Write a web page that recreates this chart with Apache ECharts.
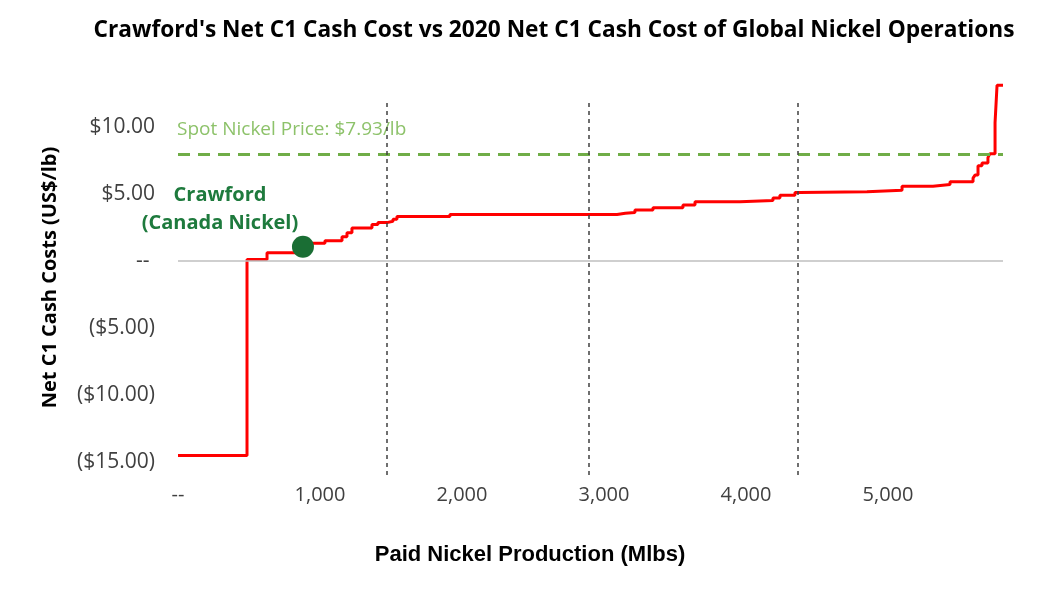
<!DOCTYPE html>
<html>
<head>
<meta charset="utf-8">
<script src="https://cdn.jsdelivr.net/npm/echarts@6/dist/echarts.min.js"></script>
<style>
  html, body { margin: 0; padding: 0; background: #fff; }
  #chart { width: 1041px; height: 605px; }
</style>
</head>
<body>
<div id="chart"></div>
<script>
// 累计产量 (Mlbs) 与 C1 成本 (US$/lb)，阶梯曲线
var prodX = [0, 486, 627, 870, 1035, 1155, 1190, 1225, 1366, 1408, 1472, 1514, 1542, 1915,
  3092, 3150, 3218, 3345, 3556, 3641, 3958, 4190, 4239, 4345, 4380, 4852, 5099, 5317,
  5437, 5599, 5613, 5634, 5662, 5704, 5718, 5754, 5768, 5810];
var costY = [-14.55, 0.1, 0.6, 1.3, 1.5, 1.8, 2.1, 2.45, 2.7, 2.85, 2.95, 3.1, 3.3, 3.45,
  3.55, 3.6, 3.8, 3.96, 4.16, 4.4, 4.5, 4.68, 4.9, 5.1, 5.15, 5.27, 5.57, 5.7,
  5.9, 6.17, 6.4, 7.1, 7.3, 7.7, 8.0, 10.3, 13.1, 13.1];

var xTicks = [0, 1000, 2000, 3000, 4000, 5000];
var yTicks = [-15, -10, -5, 0, 5, 10];
var quartileX = [1472, 2894, 4366];
var spotPrice = 7.93;
var crawford = [880, 1.05];

var chart = echarts.init(document.getElementById('chart'));

var lineData = prodX.map(function (x, i) { return [x, costY[i]]; });

// 四分位竖虚线
var vLines = quartileX.map(function (x) {
  return [{ coord: [x, -16], lineStyle: { color: '#404040', width: 1.5, type: [4, 4] } }, { coord: [x, 11.87] }];
});

function fmtY(v) {
  if (v === 0) return '-- ';
  var s = '$' + Math.abs(v).toFixed(2);
  return v < 0 ? '(' + s + ')' : s;
}

var option = {
  animation: false,
  title: {
    text: "Crawford's Net C1 Cash Cost vs 2020 Net C1 Cash Cost of Global Nickel Operations",
    left: 549,
    textAlign: 'center',
    top: 14,
    textStyle: { fontFamily: 'Open Sans', fontWeight: 'bold', fontSize: 22.7, color: '#000' }
  },
  grid: { left: 178, right: 38, top: 80, bottom: 130 },
  xAxis: {
    type: 'value',
    min: 0,
    max: 5810,
    axisLine: { show: false },
    axisTick: { show: false },
    splitLine: { show: false },
    axisLabel: {
      customValues: xTicks,
      margin: 10,
      fontFamily: 'Open Sans',
      fontSize: 20,
      color: '#404040',
      formatter: function (v) { return v === 0 ? '--' : v.toLocaleString('en-US'); }
    }
  },
  yAxis: {
    type: 'value',
    min: -16,
    max: 13.5,
    name: 'Net C1 Cash Costs (US$/lb)',
    nameLocation: 'middle',
    nameGap: 118,
    nameTextStyle: { fontFamily: 'Open Sans', fontWeight: 'bold', fontSize: 20, color: '#000' },
    axisLine: { show: false },
    axisTick: { show: false },
    splitLine: { show: false },
    axisLabel: {
      customValues: yTicks,
      margin: 23,
      fontFamily: 'Open Sans',
      fontSize: 21,
      color: '#404040',
      formatter: fmtY
    }
  },
  graphic: [
    {
      type: 'text', left: 177, top: 120,
      style: { text: 'Spot Nickel Price: $7.93/lb', fill: '#8dc26a', font: '19px "Open Sans"' }
    },
    {
      type: 'text', x: 220, y: 181,
      style: {
        text: 'Crawford\n(Canada Nickel)', fill: '#1e7a3d', align: 'center',
        font: 'bold 20px "Open Sans"', lineHeight: 28
      }
    },
    {
      type: 'text', x: 530, y: 555,
      style: {
        text: 'Paid Nickel Production (Mlbs)', fill: '#000', align: 'center', verticalAlign: 'middle',
        font: 'bold 22px "Liberation Sans"'
      }
    }
  ],
  series: [
    {
      type: 'line',
      step: 'end',
      data: lineData,
      showSymbol: false,
      lineStyle: { color: '#ff0000', width: 3 },
      z: 3,
      markLine: {
        silent: true,
        symbol: 'none',
        label: { show: false },
        data: [
          { yAxis: 0, lineStyle: { color: '#bfbfbf', width: 1.5, type: 'solid' } },
          { yAxis: spotPrice, lineStyle: { color: '#70ad47', width: 3, type: [12, 8] } }
        ].concat(vLines)
      }
    },
    {
      type: 'scatter',
      data: [crawford],
      symbolSize: 22,
      itemStyle: { color: '#1a6e34', opacity: 1 },
      z: 5
    }
  ]
};

chart.setOption(option);
</script>
</body>
</html>
